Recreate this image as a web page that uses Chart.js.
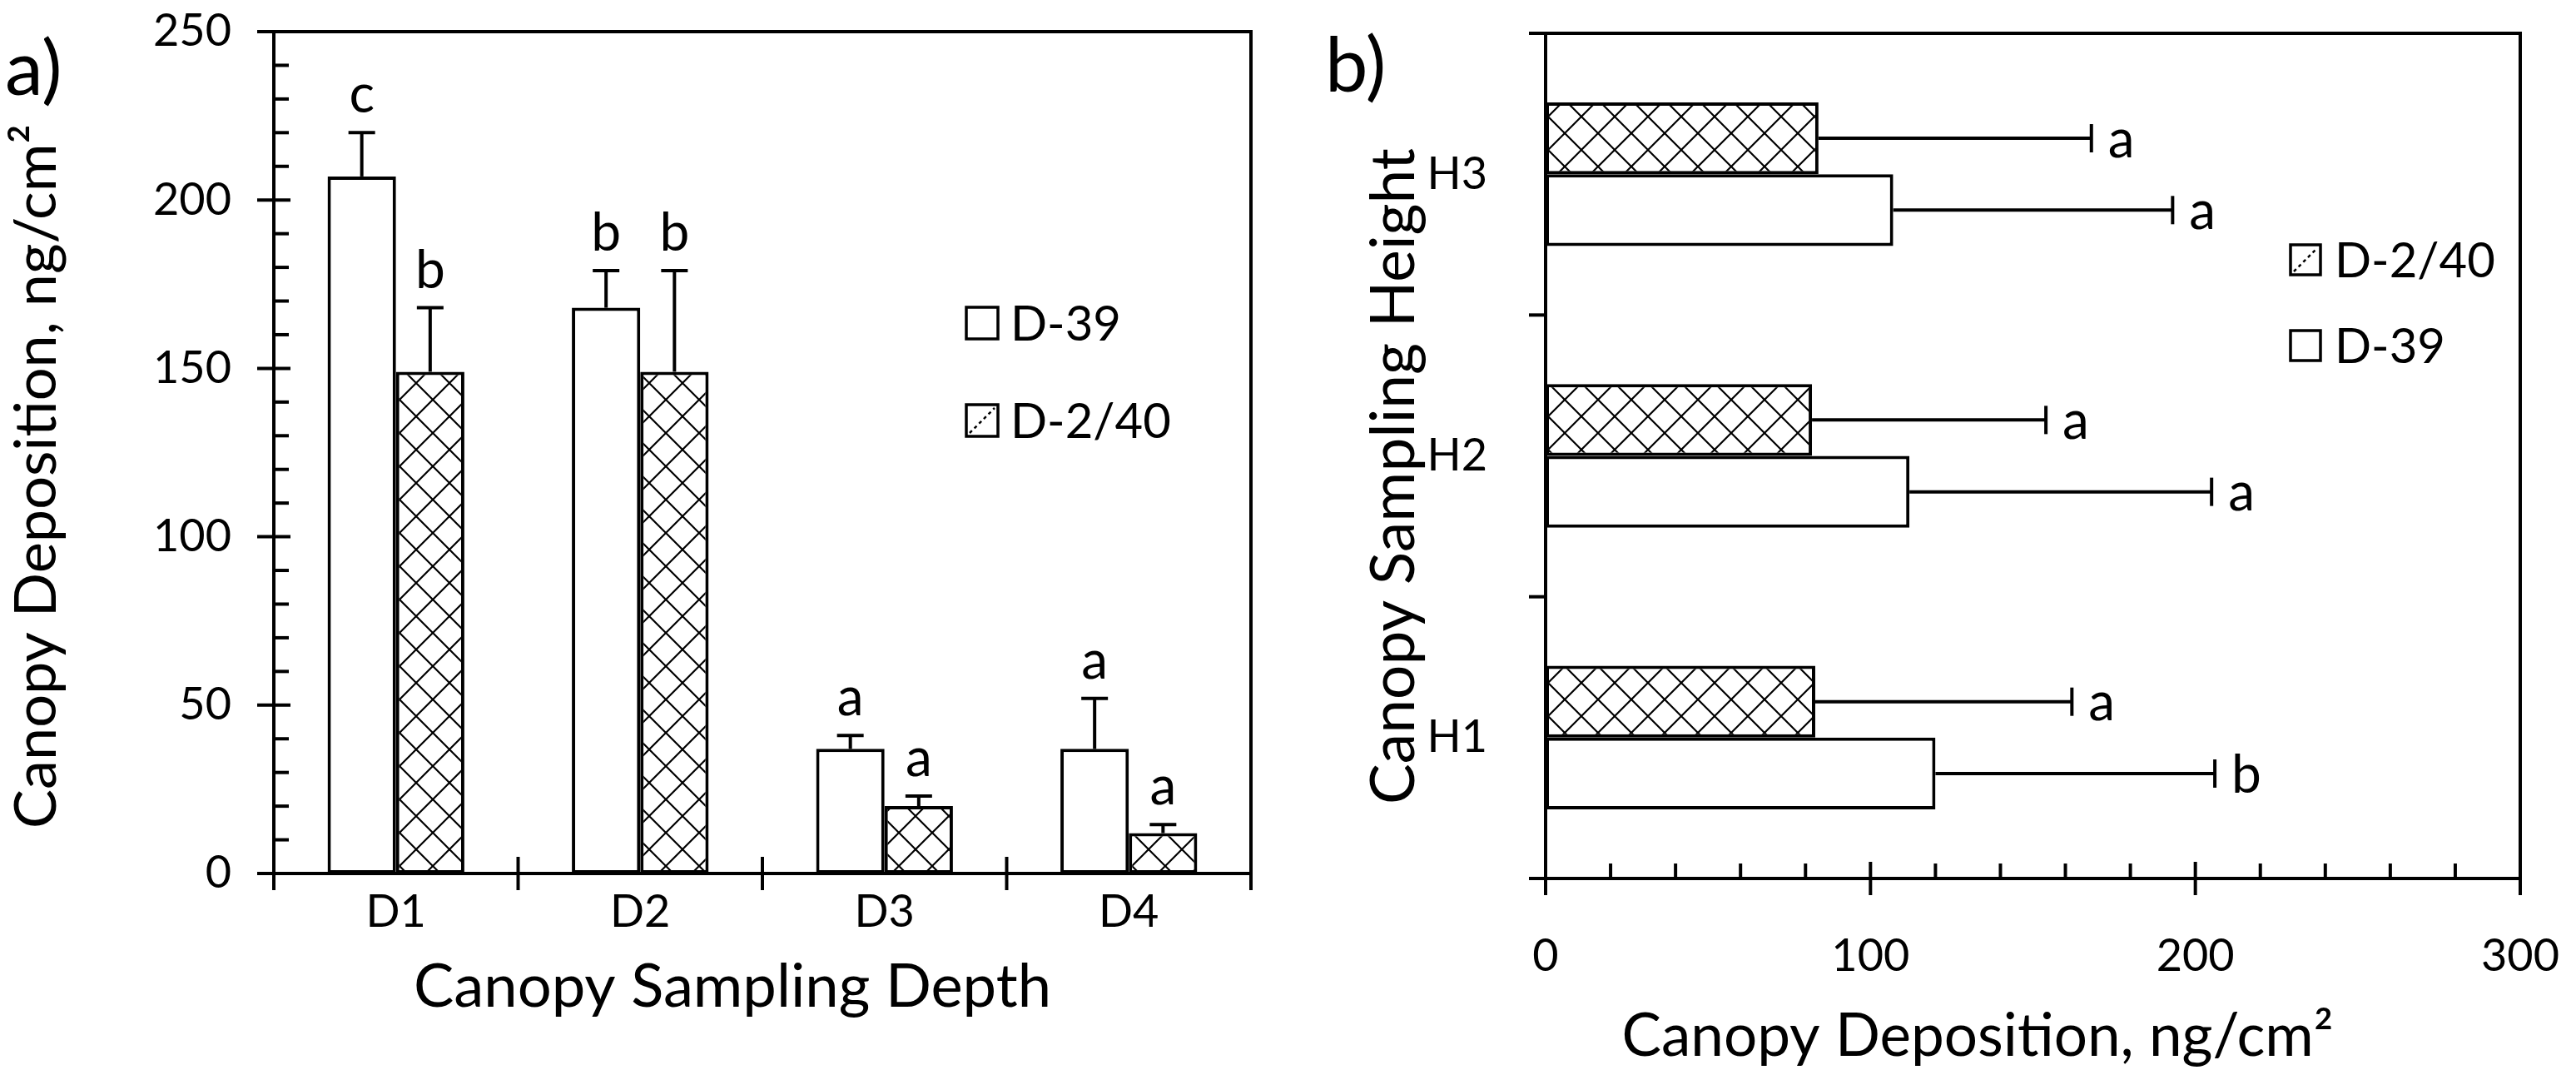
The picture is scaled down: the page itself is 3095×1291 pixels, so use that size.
<!DOCTYPE html>
<html><head><meta charset="utf-8">
<script src="https://cdn.jsdelivr.net/npm/chart.js@4.4.1/dist/chart.umd.min.js"></script>
<style>
html,body{margin:0;padding:0;background:#fff;}
#wrap{position:relative;width:3095px;height:1291px;overflow:hidden;background:#fff;}
canvas{position:absolute;top:0;}
</style></head><body>
<div id="wrap">
<canvas id="ca" width="1560" height="1291" style="left:0px;width:1560px;height:1291px"></canvas>
<canvas id="cb" width="1535" height="1291" style="left:1560px;width:1535px;height:1291px"></canvas>
</div>
<script>
// ---------- DATA ----------
const depthCategories = ['D1', 'D2', 'D3', 'D4'];
const depthD39 = [207, 168, 37, 37];
const depthD39Err = [13, 11, 4, 15];
const depthD39Letters = ['c', 'b', 'a', 'a'];
const depthD240 = [149, 149, 20, 12];
const depthD240Err = [19, 30, 3, 2.5];
const depthD240Letters = ['b', 'b', 'a', 'a'];
const depthAxisTicks = [0, 50, 100, 150, 200, 250];

const heightCategories = ['H1', 'H2', 'H3'];
const heightD240 = [83, 82, 84];
const heightD240Err = [79, 72, 84];
const heightD240Letters = ['a', 'a', 'a'];
const heightD39 = [120, 112, 107];
const heightD39Err = [86, 93, 86];
const heightD39Letters = ['b', 'a', 'a'];
const depositionAxisTicks = [0, 100, 200, 300];

const seriesNames = ['D-39', 'D-2/40'];

// ---------- STYLE ----------
const FAM = 'Lato, "Open Sans", sans-serif';
const TICK_SIZE = 54, LETTER_SIZE = 64, PANEL_SIZE = 92, LEG_SIZE = 58;
const LW = 4;

function makeHatch(ctx) {
  const c = document.createElement('canvas');
  c.width = 40; c.height = 40;
  const g = c.getContext('2d');
  g.fillStyle = '#fff'; g.fillRect(0, 0, 40, 40);
  g.strokeStyle = '#000'; g.lineWidth = 2.2;
  g.beginPath();
  g.moveTo(-20, -20); g.lineTo(60, 60);
  g.moveTo(60, -20); g.lineTo(-20, 60);
  g.moveTo(20, -20); g.lineTo(60, 20);
  g.moveTo(-20, 20); g.lineTo(20, 60);
  g.moveTo(20, -20); g.lineTo(-20, 20);
  g.moveTo(60, 20); g.lineTo(20, 60);
  g.stroke();
  return ctx.createPattern(c, 'repeat');
}

function seg(ctx, x1, y1, x2, y2) {
  ctx.beginPath(); ctx.moveTo(x1, y1); ctx.lineTo(x2, y2); ctx.stroke();
}

// draw text centred at (cx, cy), sized so its width equals len
function fitText(ctx, text, cx, cy, len, rotated) {
  ctx.save();
  ctx.font = '100px ' + FAM;
  const w = ctx.measureText(text).width;
  const size = 100 * len / w;
  ctx.font = size.toFixed(2) + 'px ' + FAM;
  ctx.textAlign = 'center'; ctx.textBaseline = 'middle';
  ctx.translate(cx, cy);
  if (rotated) ctx.rotate(-Math.PI / 2);
  ctx.fillText(text, 0, 0);
  ctx.restore();
}

// legend swatch: plain box, or box with a dotted diagonal for the hatched series
function swatch(ctx, x, y, s, hatched) {
  ctx.save();
  ctx.fillStyle = '#fff';
  ctx.fillRect(x, y, s, s);
  ctx.strokeStyle = '#000';
  if (hatched) {
    ctx.lineWidth = 2.5;
    ctx.setLineDash([4, 4]);
    seg(ctx, x + 4, y + s - 4, x + s - 4, y + 4);
    ctx.setLineDash([]);
  }
  ctx.lineWidth = 3.5;
  ctx.strokeRect(x, y, s, s);
  ctx.restore();
}

function zeroPad(s) { s.paddingTop = 0; s.paddingBottom = 0; s.paddingLeft = 0; s.paddingRight = 0; }

const caCtx = document.getElementById('ca').getContext('2d');
const cbCtx = document.getElementById('cb').getContext('2d');
const hatchA = makeHatch(caCtx);
const hatchB = makeHatch(cbCtx);

// ---------- PANEL A PLUGIN ----------
const panelA = {
  id: 'panelA',
  afterDatasetsDraw(chart) {
    const ctx = chart.ctx, y = chart.scales.y;
    const errs = [depthD39Err, depthD240Err];
    const vals = [depthD39, depthD240];
    const lets = [depthD39Letters, depthD240Letters];
    ctx.save();
    ctx.strokeStyle = '#000'; ctx.lineWidth = LW; ctx.fillStyle = '#000';
    ctx.font = LETTER_SIZE + 'px ' + FAM;
    ctx.textAlign = 'center'; ctx.textBaseline = 'alphabetic';
    for (let d = 0; d < 2; d++) {
      const meta = chart.getDatasetMeta(d);
      meta.data.forEach((bar, i) => {
        const top = y.getPixelForValue(vals[d][i] + errs[d][i]);
        seg(ctx, bar.x, bar.y, bar.x, top);
        seg(ctx, bar.x - 16, top, bar.x + 16, top);
        ctx.fillText(lets[d][i], bar.x, top - 24);
      });
    }
    ctx.restore();
  },
  afterDraw(chart) {
    const ctx = chart.ctx, a = chart.chartArea, x = chart.scales.x, y = chart.scales.y;
    ctx.save();
    ctx.strokeStyle = '#000'; ctx.lineWidth = LW; ctx.lineCap = 'butt';
    seg(ctx, a.left - 20, a.top, a.right + 2, a.top);
    seg(ctx, a.right, a.top, a.right, a.bottom + 20);
    seg(ctx, a.left, a.top - 2, a.left, a.bottom + 20);
    seg(ctx, a.left - 20, a.bottom, a.right + 2, a.bottom);
    for (let v = y.min; v <= y.max; v += 10) {
      const py = y.getPixelForValue(v);
      if (v % 50 === 0) seg(ctx, a.left - 20, py, a.left + 20, py);
      else seg(ctx, a.left, py, a.left + 18, py);
    }
    for (let i = 1; i < depthCategories.length; i++) {
      const px = x.getPixelForValue(i - 0.5);
      seg(ctx, px, a.bottom - 20, px, a.bottom + 20);
    }
    ctx.fillStyle = '#000';
    fitText(ctx, 'Canopy Sampling Depth', 880, 1186, 766, false);
    fitText(ctx, 'Canopy Deposition, ng/cm²', 44, 572, 846, true);
    ctx.font = PANEL_SIZE + 'px ' + FAM;
    ctx.textAlign = 'left'; ctx.textBaseline = 'middle';
    ctx.fillText('a)', 6, 84);
    const legY = [388, 505];
    ctx.font = LEG_SIZE + 'px ' + FAM;
    for (let d = 0; d < 2; d++) {
      swatch(ctx, 1161, legY[d] - 19, 38, d === 1);
      ctx.fillStyle = '#000';
      ctx.fillText(seriesNames[d], 1214, legY[d] + 2);
    }
    ctx.restore();
  }
};

// ---------- PANEL B PLUGIN ----------
const panelB = {
  id: 'panelB',
  afterDatasetsDraw(chart) {
    const ctx = chart.ctx, x = chart.scales.x;
    const errs = [heightD240Err, heightD39Err];
    const vals = [heightD240, heightD39];
    const lets = [heightD240Letters, heightD39Letters];
    ctx.save();
    ctx.strokeStyle = '#000'; ctx.lineWidth = LW; ctx.fillStyle = '#000';
    ctx.font = LETTER_SIZE + 'px ' + FAM;
    ctx.textAlign = 'left'; ctx.textBaseline = 'middle';
    for (let d = 0; d < 2; d++) {
      const meta = chart.getDatasetMeta(d);
      meta.data.forEach((bar, i) => {
        const end = x.getPixelForValue(vals[d][i] + errs[d][i]);
        seg(ctx, bar.x, bar.y, end, bar.y);
        seg(ctx, end, bar.y - 17, end, bar.y + 17);
        ctx.fillText(lets[d][i], end + 20, bar.y + 2);
      });
    }
    ctx.restore();
  },
  afterDraw(chart) {
    const ctx = chart.ctx, a = chart.chartArea, x = chart.scales.x, y = chart.scales.y;
    ctx.save();
    ctx.strokeStyle = '#000'; ctx.lineWidth = LW; ctx.lineCap = 'butt';
    seg(ctx, a.left - 20, a.top, a.right + 2, a.top);
    seg(ctx, a.right, a.top, a.right, a.bottom + 20);
    seg(ctx, a.left, a.top - 2, a.left, a.bottom + 20);
    seg(ctx, a.left - 20, a.bottom, a.right + 2, a.bottom);
    for (let i = 1; i < heightCategories.length; i++) {
      const py = y.getPixelForValue(i - 0.5);
      seg(ctx, a.left - 20, py, a.left, py);
    }
    for (let v = x.min; v <= x.max; v += 20) {
      const px = x.getPixelForValue(v);
      if (v % 100 === 0) seg(ctx, px, a.bottom - 20, px, a.bottom + 20);
      else seg(ctx, px, a.bottom - 18, px, a.bottom);
    }
    ctx.fillStyle = '#000';
    // canvas B starts at page x = 1560
    fitText(ctx, 'Canopy Deposition, ng/cm²', 2376 - 1560, 1245, 855, false);
    fitText(ctx, 'Canopy Sampling Height', 1675 - 1560, 572, 788, true);
    ctx.font = PANEL_SIZE + 'px ' + FAM;
    ctx.textAlign = 'left'; ctx.textBaseline = 'middle';
    ctx.fillText('b)', 32, 80);
    const legY = [415, 312];
    ctx.font = LEG_SIZE + 'px ' + FAM;
    for (let d = 1; d >= 0; d--) {
      swatch(ctx, 1192, legY[d] - 18, 36, d === 1);
      ctx.fillStyle = '#000';
      ctx.fillText(seriesNames[d], 1245, legY[d] + 2);
    }
    ctx.restore();
  }
};

const tickFont = { family: FAM, size: TICK_SIZE, lineHeight: 1 };

// ---------- CHART A ----------
new Chart(caCtx, {
  type: 'bar',
  data: {
    labels: depthCategories,
    datasets: [
      { label: seriesNames[0], data: depthD39, backgroundColor: '#fff', borderColor: '#000', borderWidth: 4, borderSkipped: false },
      { label: seriesNames[1], data: depthD240, backgroundColor: hatchA, borderColor: '#000', borderWidth: 4, borderSkipped: false }
    ]
  },
  options: {
    responsive: false, animation: false, devicePixelRatio: 1,
    layout: { padding: { left: 0, right: 57, top: 38, bottom: 0 } },
    datasets: { bar: { categoryPercentage: 0.56, barPercentage: 1.0 } },
    plugins: { legend: { display: false }, tooltip: { enabled: false } },
    scales: {
      x: {
        grid: { display: false, drawTicks: false },
        border: { display: false },
        ticks: { font: tickFont, color: '#000', padding: 20 },
        afterFit: s => { s.height = 242; zeroPad(s); }
      },
      y: {
        min: 0, max: 250,
        grid: { display: false, drawTicks: false },
        border: { display: false },
        afterBuildTicks: s => { s.ticks = depthAxisTicks.map(v => ({ value: v })); },
        ticks: { font: tickFont, color: '#000', padding: 51 },
        afterFit: s => { s.width = 329; zeroPad(s); }
      }
    }
  },
  plugins: [panelA]
});

// ---------- CHART B ----------
new Chart(cbCtx, {
  type: 'bar',
  data: {
    labels: heightCategories,
    datasets: [
      { label: seriesNames[1], data: heightD240, backgroundColor: hatchB, borderColor: '#000', borderWidth: 4, borderSkipped: false },
      { label: seriesNames[0], data: heightD39, backgroundColor: '#fff', borderColor: '#000', borderWidth: 4, borderSkipped: false }
    ]
  },
  options: {
    indexAxis: 'y',
    responsive: false, animation: false, devicePixelRatio: 1,
    layout: { padding: { left: 0, right: 67, top: 40, bottom: 0 } },
    datasets: { bar: { categoryPercentage: 0.51, barPercentage: 1.0 } },
    plugins: { legend: { display: false }, tooltip: { enabled: false } },
    scales: {
      x: {
        min: 0, max: 300,
        grid: { display: false, drawTicks: false },
        border: { display: false },
        afterBuildTicks: s => { s.ticks = depositionAxisTicks.map(v => ({ value: v })); },
        ticks: { font: tickFont, color: '#000', padding: 67 },
        afterFit: s => { s.height = 236; zeroPad(s); }
      },
      y: {
        reverse: true,
        grid: { display: false, drawTicks: false },
        border: { display: false },
        ticks: { font: tickFont, color: '#000', padding: 70 },
        afterFit: s => { s.width = 297; zeroPad(s); }
      }
    }
  },
  plugins: [panelB]
});
</script>
</body></html>
